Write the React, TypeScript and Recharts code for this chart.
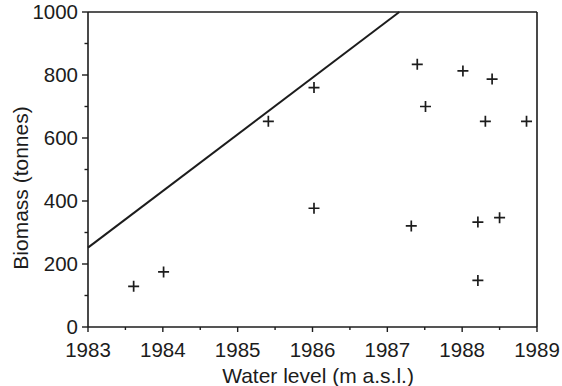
import { ScatterChart, Scatter, XAxis, YAxis, ReferenceLine } from "recharts";

// observations (water level, biomass)
const waterLevel = [1983.61, 1984.01, 1985.41, 1986.02, 1986.02, 1987.32, 1987.4, 1987.51, 1988.01, 1988.4, 1988.31, 1988.86, 1988.21, 1988.5, 1988.21];
const biomass    = [129, 175, 653, 760, 377, 321, 834, 700, 813, 787, 653, 653, 333, 347, 148];

// upper boundary line
const lineX = [1983, 1987.16];
const lineY = [252, 1000];

const xTicks = [1983, 1983.5, 1984, 1984.5, 1985, 1985.5, 1986, 1986.5, 1987, 1987.5, 1988, 1988.5, 1989];
const yTicks = [0, 100, 200, 300, 400, 500, 600, 700, 800, 900, 1000];

const points   = waterLevel.map((x, i) => ({ x, y: biomass[i] }));
const boundary = lineX.map((x, i) => ({ x, y: lineY[i] }));

const INK  = "#1c1c1c";
const FONT = "'Liberation Sans', Arial, sans-serif";
const TICK_FS  = 20.5;
const TITLE_FS = 21;

function Plus({ cx, cy }: { cx?: number; cy?: number }) {
  if (cx == null || cy == null) return null;
  return (
    <path
      d={`M${cx - 5.5},${cy}H${cx + 5.5}M${cx},${cy - 5.5}V${cy + 5.5}`}
      stroke={INK}
      strokeWidth={1.7}
      fill="none"
    />
  );
}

function XTick({ x, y, payload }: any) {
  const major = Number.isInteger(payload.value);
  return (
    <g>
      <line x1={x} x2={x} y1={y} y2={y + (major ? 5 : 3)} stroke={INK} strokeWidth={1.4} />
      {major && (
        <text x={x} y={y + 30} textAnchor="middle" fontSize={TICK_FS} fill={INK} fontFamily={FONT}>
          {payload.value}
        </text>
      )}
    </g>
  );
}

function YTick({ x, y, payload }: any) {
  const major = payload.value % 200 === 0;
  return (
    <g>
      <line x1={x - (major ? 6 : 3.5)} x2={x} y1={y} y2={y} stroke={INK} strokeWidth={1.4} />
      {major && (
        <text x={x - 10} y={y + 7} textAnchor="end" fontSize={TICK_FS} fill={INK} fontFamily={FONT}>
          {payload.value}
        </text>
      )}
    </g>
  );
}

export default function App() {
  return (
    <div style={{ position: "absolute", left: 0, top: 0, background: "#fff" }}>
      <ScatterChart width={562} height={386} margin={{ top: 12, right: 25, bottom: 0, left: 0 }}>
        <XAxis
          type="number"
          dataKey="x"
          domain={[1983, 1989]}
          ticks={xTicks}
          interval={0}
          tickSize={0}
          tickMargin={0}
          tick={<XTick />}
          axisLine={{ stroke: INK, strokeWidth: 1.6 }}
          height={59}
          label={{
            content: () => (
              <text x={318} y={383} textAnchor="middle" fontSize={TITLE_FS} fill={INK} fontFamily={FONT}>
                Water level (m a.s.l.)
              </text>
            ),
          }}
        />
        <YAxis
          type="number"
          dataKey="y"
          domain={[0, 1000]}
          ticks={yTicks}
          interval={0}
          tickSize={0}
          tickMargin={0}
          tick={<YTick />}
          axisLine={{ stroke: INK, strokeWidth: 1.6 }}
          width={88}
          label={{
            content: () => (
              <text
                x={20}
                y={188}
                transform="rotate(-90 20 188)"
                textAnchor="middle"
                dominantBaseline="central"
                fontSize={TITLE_FS}
                fill={INK}
                fontFamily={FONT}
              >
                Biomass (tonnes)
              </text>
            ),
          }}
        />
        <ReferenceLine y={1000} stroke={INK} strokeWidth={1.6} />
        <ReferenceLine x={1989} stroke={INK} strokeWidth={1.6} />
        <Scatter
          data={boundary}
          line={{ stroke: INK, strokeWidth: 2 }}
          shape={() => <g />}
          isAnimationActive={false}
        />
        <Scatter data={points} shape={<Plus />} isAnimationActive={false} />
      </ScatterChart>
    </div>
  );
}
